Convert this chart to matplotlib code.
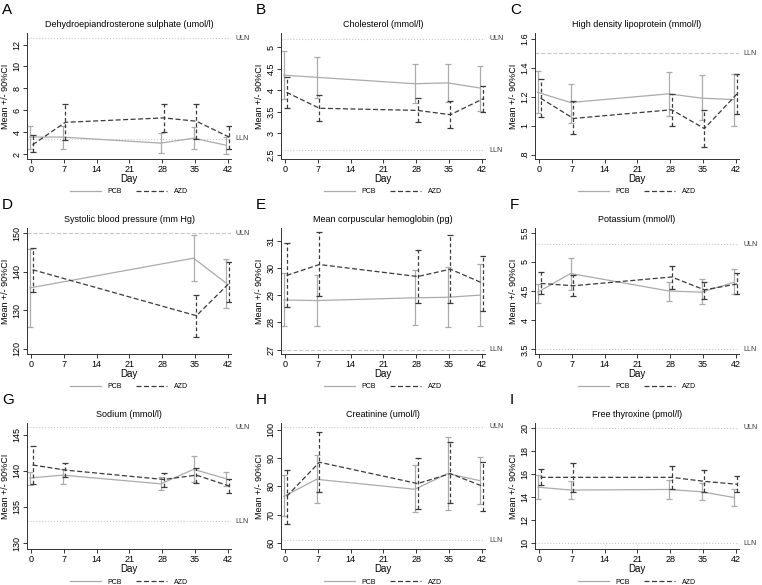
import numpy as np
import matplotlib.pyplot as plt
from matplotlib.ticker import FuncFormatter

plt.rcParams['font.family'] = ['Liberation Sans', 'DejaVu Sans']

days = [0, 7, 28, 35, 42]
days_sbp = [0, 35, 42]

# A  DHEAS
a_pcb = [3.55, 3.55, 3.0, 3.45, 2.8]
a_pcb_lo = [2.45, 2.45, 2.1, 2.45, 2.0]
a_pcb_hi = [4.55, 4.6, 3.95, 4.45, 3.6]
a_azd = [2.85, 4.9, 5.3, 5.0, 3.55]
a_azd_lo = [2.15, 3.3, 4.0, 3.4, 2.5]
a_azd_hi = [3.75, 6.55, 6.6, 6.6, 4.55]

# B  cholesterol
b_pcb = [4.35, 4.3, 4.15, 4.17, 4.05]
b_pcb_lo = [3.8, 3.82, 3.7, 3.72, 3.52]
b_pcb_hi = [4.9, 4.78, 4.6, 4.62, 4.57]
b_azd = [3.95, 3.58, 3.53, 3.43, 3.8]
b_azd_lo = [3.58, 3.28, 3.25, 3.12, 3.5]
b_azd_hi = [4.3, 3.88, 3.82, 3.75, 4.1]

# C  HDL
c_pcb = [1.23, 1.16, 1.22, 1.19, 1.18]
c_pcb_lo = [1.09, 1.02, 1.07, 1.04, 1.0]
c_pcb_hi = [1.38, 1.29, 1.37, 1.35, 1.36]
c_azd = [1.19, 1.05, 1.11, 0.98, 1.22]
c_azd_lo = [1.06, 0.94, 1.0, 0.85, 1.08]
c_azd_hi = [1.32, 1.17, 1.22, 1.11, 1.36]

# D  systolic BP (days 0, 35, 42)
d_pcb = [135.8, 143.5, 137.0]
d_pcb_lo = [125.8, 137.5, 130.5]
d_pcb_hi = [145.8, 149.5, 143.3]
d_azd = [140.5, 128.6, 137.0]
d_azd_lo = [134.8, 123.2, 132.2]
d_azd_hi = [146.2, 134.0, 142.5]

# E  MCH
e_pcb = [28.82, 28.8, 28.9, 28.92, 29.0]
e_pcb_lo = [27.85, 27.85, 27.9, 27.82, 27.85]
e_pcb_hi = [29.8, 29.75, 29.92, 30.02, 30.15]
e_azd = [29.72, 30.12, 29.68, 29.95, 29.43]
e_azd_lo = [28.55, 28.95, 28.7, 28.7, 28.4]
e_azd_hi = [30.9, 31.3, 30.67, 31.2, 30.45]

# F  potassium
f_pcb = [4.48, 4.8, 4.5, 4.48, 4.65]
f_pcb_lo = [4.3, 4.52, 4.33, 4.27, 4.45]
f_pcb_hi = [4.62, 5.07, 4.65, 4.7, 4.87]
f_azd = [4.63, 4.59, 4.74, 4.52, 4.62]
f_azd_lo = [4.45, 4.42, 4.53, 4.37, 4.45]
f_azd_hi = [4.82, 4.78, 4.93, 4.65, 4.8]

# G  sodium
g_pcb = [139.0, 139.4, 138.2, 140.2, 138.9]
g_pcb_lo = [138.1, 138.2, 137.3, 138.5, 137.9]
g_pcb_hi = [139.9, 140.3, 139.1, 142.0, 139.9]
g_azd = [140.8, 140.1, 138.8, 139.4, 137.9]
g_azd_lo = [138.2, 139.2, 137.8, 138.3, 137.0]
g_azd_hi = [143.4, 141.1, 139.7, 140.4, 138.9]

# H  creatinine
h_pcb = [76.5, 82.5, 79.0, 84.5, 82.0]
h_pcb_lo = [69.5, 74.0, 71.0, 71.8, 73.8]
h_pcb_hi = [84.0, 91.0, 87.5, 97.3, 90.5]
h_azd = [76.5, 88.5, 81.0, 84.5, 80.0]
h_azd_lo = [66.7, 78.0, 72.0, 74.2, 71.5]
h_azd_hi = [85.8, 99.3, 90.0, 95.5, 88.5]

# I  free thyroxine
i_pcb = [14.85, 14.6, 14.65, 14.45, 13.95]
i_pcb_lo = [13.85, 13.8, 13.8, 13.7, 13.2]
i_pcb_hi = [15.9, 15.4, 15.5, 15.2, 14.65]
i_azd = [15.7, 15.7, 15.7, 15.35, 15.1]
i_azd_lo = [15.0, 14.45, 14.7, 14.4, 14.4]
i_azd_hi = [16.4, 16.95, 16.7, 16.35, 15.8]

panels = [
    ('A', 'Dehydroepiandrosterone sulphate (umol/l)', days, a_pcb, a_pcb_lo, a_pcb_hi, a_azd, a_azd_lo, a_azd_hi,
     (1.55, 13.05), [2, 4, 6, 8, 10, 12], [('ULN', 12.55), ('LLN', 3.4)], ':'),
    ('B', 'Cholesterol (mmol/l)', days, b_pcb, b_pcb_lo, b_pcb_hi, b_azd, b_azd_lo, b_azd_hi,
     (2.4, 5.33), [2.5, 3, 3.5, 4, 4.5, 5], [('ULN', 5.2), ('LLN', 2.6)], ':'),
    ('C', 'High density lipoprotein (mmol/l)', days, c_pcb, c_pcb_lo, c_pcb_hi, c_azd, c_azd_lo, c_azd_hi,
     (0.77, 1.64), [0.8, 1, 1.2, 1.4, 1.6], [('LLN', 1.5)], '--'),
    ('D', 'Systolic blood pressure (mm Hg)', days_sbp, d_pcb, d_pcb_lo, d_pcb_hi, d_azd, d_azd_lo, d_azd_hi,
     (118.7, 151.3), [120, 130, 140, 150], [('ULN', 150)], '--'),
    ('E', 'Mean corpuscular hemoglobin (pg)', days, e_pcb, e_pcb_lo, e_pcb_hi, e_azd, e_azd_lo, e_azd_hi,
     (26.84, 31.46), [27, 28, 29, 30, 31], [('LLN', 27)], '--'),
    ('F', 'Potassium (mmol/l)', days, f_pcb, f_pcb_lo, f_pcb_hi, f_azd, f_azd_lo, f_azd_hi,
     (3.42, 5.58), [3.5, 4, 4.5, 5, 5.5], [('ULN', 5.3), ('LLN', 3.5)], ':'),
    ('G', 'Sodium (mmol/l)', days, g_pcb, g_pcb_lo, g_pcb_hi, g_azd, g_azd_lo, g_azd_hi,
     (129.2, 146.6), [130, 135, 140, 145], [('ULN', 146), ('LLN', 133)], ':'),
    ('H', 'Creatinine (umol/l)', days, h_pcb, h_pcb_lo, h_pcb_hi, h_azd, h_azd_lo, h_azd_hi,
     (58.0, 102.3), [60, 70, 80, 90, 100], [('ULN', 101), ('LLN', 61)], ':'),
    ('I', 'Free thyroxine (pmol/l)', days, i_pcb, i_pcb_lo, i_pcb_hi, i_azd, i_azd_lo, i_azd_hi,
     (9.5, 20.4), [10, 12, 14, 16, 18, 20], [('ULN', 20), ('LLN', 10)], ':'),
]


def stata_fmt(v, pos):
    s = '%g' % v
    if s.startswith('0.'):
        s = s[1:]
    return s


W, H = 762, 585
fig = plt.figure(figsize=(W / 100, H / 100), dpi=100)

pcb_col = '#ababab'
azd_col = '#3a3a3a'
ax_w, ax_h = 204, 126

for k, p in enumerate(panels):
    letter, title, x, pm, plo, phi, am, alo, ahi, ylim, yt, refs, rls = p
    r, c = divmod(k, 3)
    x0 = 254 * c + 27
    y0 = 195 * r + 33
    ax = fig.add_axes([x0 / W, 1 - (y0 + ax_h) / H, ax_w / W, ax_h / H])
    x = np.array(x, dtype=float)
    xp = x - 0.3
    xa = x + 0.3
    pm, plo, phi = np.array(pm), np.array(plo), np.array(phi)
    am, alo, ahi = np.array(am), np.array(alo), np.array(ahi)

    for name, val in refs:
        ax.axhline(val, color='#c8c8c8', lw=0.8, ls=rls, zorder=1)
        ax.text(1.02, val, name, transform=ax.get_yaxis_transform(), fontsize=5,
                va='center', ha='left', color='#333333')

    ax.errorbar(xp, pm, yerr=[pm - plo, phi - pm], fmt='none', ecolor=pcb_col,
                elinewidth=0.9, capsize=2, capthick=0.9, zorder=2)
    eb = ax.errorbar(xa, am, yerr=[am - alo, ahi - am], fmt='none', ecolor=azd_col,
                     elinewidth=0.9, capsize=2, capthick=0.9, zorder=3)
    eb[2][0].set_linestyle((0, (3, 2)))

    ax.plot(xp, pm, color=pcb_col, lw=0.9, label='PCB', zorder=2)
    ax.plot(xa, am, color=azd_col, lw=0.9, ls=(0, (4, 2)), label='AZD', zorder=3)

    ax.set_xlim(-0.9, 42.7)
    ax.set_ylim(*ylim)
    ax.set_xticks([0, 7, 14, 21, 28, 35, 42])
    ax.set_yticks(yt)
    ax.yaxis.set_major_formatter(FuncFormatter(stata_fmt))
    ax.tick_params(axis='both', labelsize=6.5, length=3, width=0.7, pad=1.5, color='#333333')
    ax.tick_params(axis='y', pad=1)
    for lab in ax.get_yticklabels():
        lab.set_rotation(90)
        lab.set_va('center')
    for s in ['top', 'right']:
        ax.spines[s].set_visible(False)
    for s in ['left', 'bottom']:
        ax.spines[s].set_linewidth(0.7)
        ax.spines[s].set_color('#333333')

    ax.set_title(title, fontsize=6.5, pad=4)
    ax.set_xlabel('Day', fontsize=7, labelpad=0)
    ax.set_ylabel('Mean +/- 90%CI', fontsize=6.5, va='center')
    ax.yaxis.set_label_coords(-21 / ax_w, 0.5)
    ax.legend(loc='center', bbox_to_anchor=(0.5, -33 / ax_h), ncol=2, frameon=False,
              fontsize=5, handlelength=4.5, columnspacing=2.0, handletextpad=1.0)

    fig.text((254 * c + 2) / W, 1 - (195 * r + 10) / H, letter, fontsize=11,
             ha='left', va='center')

fig.savefig('out.png', dpi=100)
